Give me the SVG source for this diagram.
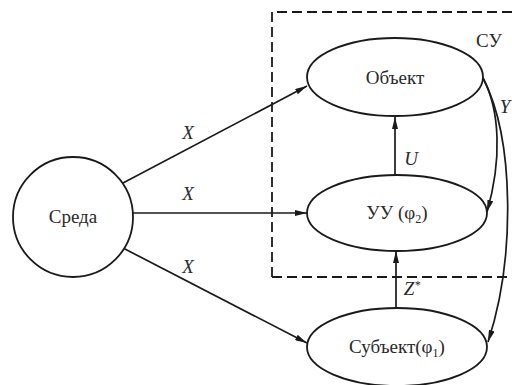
<svg xmlns="http://www.w3.org/2000/svg" width="512" height="385" viewBox="0 0 512 385">
<defs>
<marker id="ah" viewBox="0 0 12 6" refX="12" refY="3" markerWidth="12" markerHeight="6" markerUnits="userSpaceOnUse" orient="auto">
<path d="M0,0 L12,3 L0,6 Z" fill="#1a1a1a"/>
</marker>
<style>
.n{fill:#fff;stroke:#1a1a1a;stroke-width:1.8}
.e{fill:none;stroke:#1a1a1a;stroke-width:1.7;marker-end:url(#ah)}
.t{font-family:"Liberation Serif","Times New Roman",serif;font-size:19px;fill:#2a2a2a;text-anchor:middle}
.l{font-family:"Liberation Serif","Times New Roman",serif;font-size:19px;font-style:italic;fill:#2a2a2a;text-anchor:middle}
</style>
</defs>
<rect width="512" height="385" fill="#fff"/>
<g id="boundary">
<path d="M272,277 V12 H520 M272,277 H520" fill="none" stroke="#1a1a1a" stroke-width="1.8" stroke-dasharray="10,5"/>
<text class="t" x="489" y="47">СУ</text>
</g>
<g id="connectors">
<path class="e" d="M123,183 L307,86"/>
<path class="e" d="M133,213 L307,213"/>
<path class="e" d="M123,248 L307,343"/>
<path class="e" d="M395,175 L395,117"/>
<path class="e" d="M396,308 L396,251"/>
<path class="e" d="M483,78 C500,110 502,160 487,212"/>
<path class="e" d="M483,78 C515,140 515,260 488,342"/>
<text class="l" x="188" y="139">X</text>
<text class="l" x="188" y="200">X</text>
<text class="l" x="188" y="273">X</text>
<text class="l" x="411" y="165">U</text>
<text class="l" x="412" y="295">Z<tspan font-size="12" dy="-6">*</tspan></text>
<text class="l" x="505" y="113">Y</text>
</g>
<g id="sreda">
<circle class="n" cx="73" cy="217" r="60"/>
<text class="t" x="73" y="223">Среда</text>
</g>
<g id="objekt">
<ellipse class="n" cx="395" cy="77" rx="88" ry="39"/>
<text class="t" x="395" y="84">Объект</text>
</g>
<g id="uu">
<ellipse class="n" cx="397" cy="213" rx="90" ry="38"/>
<text class="t" x="397" y="219">УУ (φ<tspan font-size="12" dy="4">2</tspan><tspan dy="-4">)</tspan></text>
</g>
<g id="subjekt">
<ellipse class="n" cx="397" cy="347" rx="90" ry="39"/>
<text class="t" x="397" y="353">Субъект(φ<tspan font-size="12" dy="4">1</tspan><tspan dy="-4">)</tspan></text>
</g>
</svg>
